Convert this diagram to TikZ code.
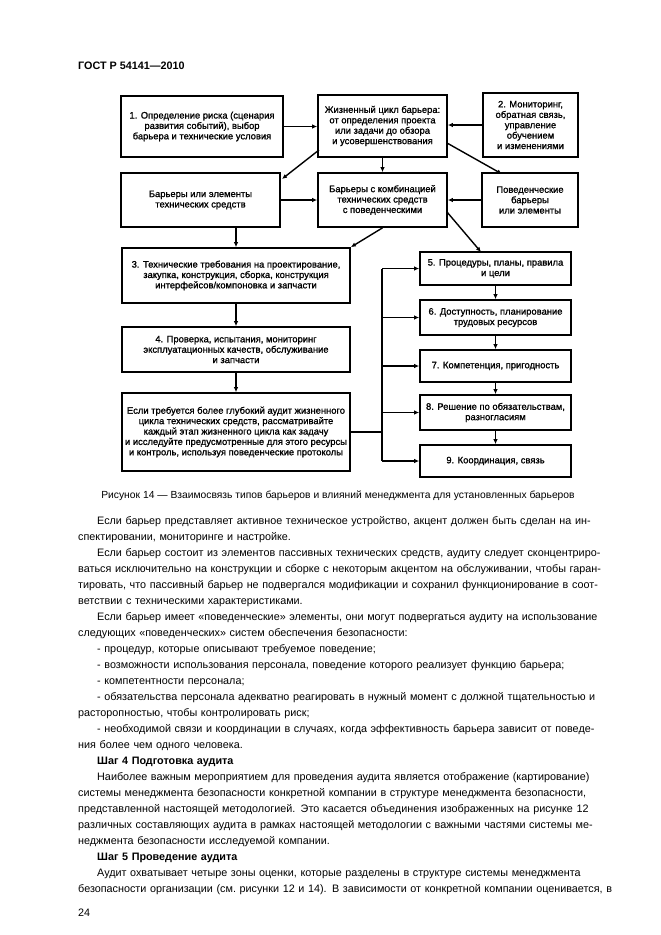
\documentclass[tikz,border=0pt]{standalone}
\usepackage{fontspec}
\setmainfont{Liberation Sans}
\newfontfamily\boxfont[FakeBold=1.2]{Liberation Sans}
\usetikzlibrary{arrows.meta}
\newcommand\jl[1]{\makebox[511pt][s]{#1}}
\newcommand\ind{\hspace*{19pt}}

\begin{document}
\begin{tikzpicture}[x=1pt,y=-1pt,
	blok/.style={draw, line width=1.7pt, align=center, inner sep=0pt, font=\boxfont\fontsize{9.4}{10.4}\selectfont},
	pijl/.style={line width=1.4pt, -{Latex[length=5pt,width=4.5pt]}},
	lijn/.style={line width=1.4pt}]
	\useasboundingbox (0,0) rectangle (661,935);
	\node[anchor=west, inner sep=0pt, font=\fontsize{10.8}{12}\selectfont\bfseries] (head) at (78,66) {ГОСТ Р 54141---2010};
	% top row
	\node[blok, minimum width=162pt, minimum height=61pt] (risk) at (202,126.5) {1. Определение риска (сценария\\развития событий), выбор\\барьера и технические условия};
	\node[blok, minimum width=129pt, minimum height=62pt] (cycle) at (382.5,126) {Жизненный цикл барьера:\\от определения проекта\\или задачи до обзора\\и усовершенствования};
	\node[blok, minimum width=95pt, minimum height=64pt] (monit) at (530.5,125) {2. Мониторинг,\\обратная связь,\\управление\\обучением\\и изменениями};
	% second row
	\node[blok, minimum width=159pt, minimum height=54pt] (tech) at (200.5,200) {Барьеры или элементы\\технических средств};
	\node[blok, minimum width=129pt, minimum height=54pt] (comb) at (382.5,200) {Барьеры с комбинацией\\технических средств\\с поведенческими};
	\node[blok, minimum width=96pt, minimum height=54pt] (behav) at (530,200) {Поведенческие\\барьеры\\или элементы};
	% left column
	\node[blok, minimum width=228pt, minimum height=55pt] (req) at (236,275.5) {3. Технические требования на проектирование,\\закупка, конструкция, сборка, конструкция\\интерфейсов/компоновка и запчасти};
	\node[blok, minimum width=228pt, minimum height=45pt] (check) at (236,349.5) {4. Проверка, испытания, мониторинг\\эксплуатационных качеств, обслуживание\\и запчасти};
	\node[blok, minimum width=228pt, minimum height=78pt] (audit) at (236,432) {Если требуется более глубокий аудит жизненного\\цикла технических средств, рассматривайте\\каждый этап жизненного цикла как задачу\\и исследуйте предусмотренные для этого ресурсы\\и контроль, используя поведенческие протоколы};
	% right column
	\node[blok, minimum width=151pt, minimum height=33pt] (proc) at (495.5,268.5) {5. Процедуры, планы, правила\\и цели};
	\node[blok, minimum width=151pt, minimum height=35pt] (avail) at (495.5,317.5) {6. Доступность, планирование\\трудовых ресурсов};
	\node[blok, minimum width=151pt, minimum height=32pt] (comp) at (495.5,366) {7. Компетенция, пригодность};
	\node[blok, minimum width=151pt, minimum height=35pt] (oblig) at (495.5,412.5) {8. Решение по обязательствам,\\разногласиям};
	\node[blok, minimum width=151pt, minimum height=32pt] (coord) at (495.5,461) {9. Координация, связь};
	% connectors
	\coordinate (cycleSW) at (319,150);
	\coordinate (techNE) at (282,179);
	\coordinate (cycleSE) at (447,143);
	\coordinate (behavNW) at (502,174);
	\coordinate (combSE) at (447,212);
	\coordinate (procN) at (481,252);
	\coordinate (bus) at (382,432);
	\draw[pijl] (risk.east) -- (risk.east -| cycle.west);
	\draw[pijl] (monit.west) -- (monit.west -| cycle.east);
	\draw[pijl] (cycle.south) -- (comb.north);
	\draw[pijl] (cycleSW) -- (techNE);
	\draw[pijl] (cycleSE) -- (behavNW);
	\draw[pijl] (tech.east) -- (comb.west);
	\draw[pijl] (behav.west) -- (comb.east);
	\draw[pijl] (req.north |- tech.south) -- (req.north);
	\draw[pijl] (comb.south) -- (req.north east);
	\draw[pijl] (combSE) -- (procN);
	\draw[pijl] (req.south) -- (check.north);
	\draw[pijl] (check.south) -- (audit.north);
	\draw[pijl] (proc.south) -- (avail.north);
	\draw[pijl] (avail.south) -- (comp.north);
	\draw[pijl] (comp.south) -- (oblig.north);
	\draw[pijl] (oblig.south) -- (coord.north);
	\draw[lijn] (audit.east) -- (bus);
	\draw[lijn] (bus |- proc.west) -- (bus |- coord.west);
	\foreach \b in {proc,avail,comp,oblig,coord}
		\draw[pijl] (bus |- \b.west) -- (\b.west);
	% caption and text
	\node[font=\fontsize{10.3}{12}\selectfont] (cap) at (338,496) {Рисунок 14 --- Взаимосвязь типов барьеров и влияний менеджмента для установленных барьеров};
	\node[anchor=north west, inner sep=0pt, text width=511pt, align=left, font=\fontsize{10.8}{16}\selectfont] (body) at (78,516) {%
		\jl{\ind Если барьер представляет активное техническое устройство, акцент должен быть сделан на ин-}\\
		спектировании, мониторинге и настройке.\\
		\jl{\ind Если барьер состоит из элементов пассивных технических средств, аудиту следует сконцентриро-}\\
		\jl{ваться исключительно на конструкции и сборке с некоторым акцентом на обслуживании, чтобы гаран-}\\
		\jl{тировать, что пассивный барьер не подвергался модификации и сохранил функционирование в соот-}\\
		ветствии с техническими характеристиками.\\
		\jl{\ind Если барьер имеет «поведенческие» элементы, они могут подвергаться аудиту на использование}\\
		следующих «поведенческих» систем обеспечения безопасности:\\
		\ind - процедур, которые описывают требуемое поведение;\\
		\ind - возможности использования персонала, поведение которого реализует функцию барьера;\\
		\ind - компетентности персонала;\\
		\jl{\ind - обязательства персонала адекватно реагировать в нужный момент с должной тщательностью и}\\
		расторопностью, чтобы контролировать риск;\\
		\jl{\ind - необходимой связи и координации в случаях, когда эффективность барьера зависит от поведе-}\\
		ния более чем одного человека.\\
		\ind\textbf{Шаг 4 Подготовка аудита}\\
		\jl{\ind Наиболее важным мероприятием для проведения аудита является отображение (картирование)}\\
		\jl{системы менеджмента безопасности конкретной компании в структуре менеджмента безопасности,}\\
		\jl{представленной настоящей методологией. Это касается объединения изображенных на рисунке 12}\\
		\jl{различных составляющих аудита в рамках настоящей методологии с важными частями системы ме-}\\
		неджмента безопасности исследуемой компании.\\
		\ind\textbf{Шаг 5 Проведение аудита}\\
		\jl{\ind Аудит охватывает четыре зоны оценки, которые разделены в структуре системы менеджмента}\\
		\jl{безопасности организации (см.~рисунки 12 и 14). В~зависимости от конкретной компании оценивается, в}};
	\node[anchor=west, inner sep=0pt, font=\fontsize{10.8}{12}\selectfont] (page) at (78,913) {24};
\end{tikzpicture}
\end{document}
